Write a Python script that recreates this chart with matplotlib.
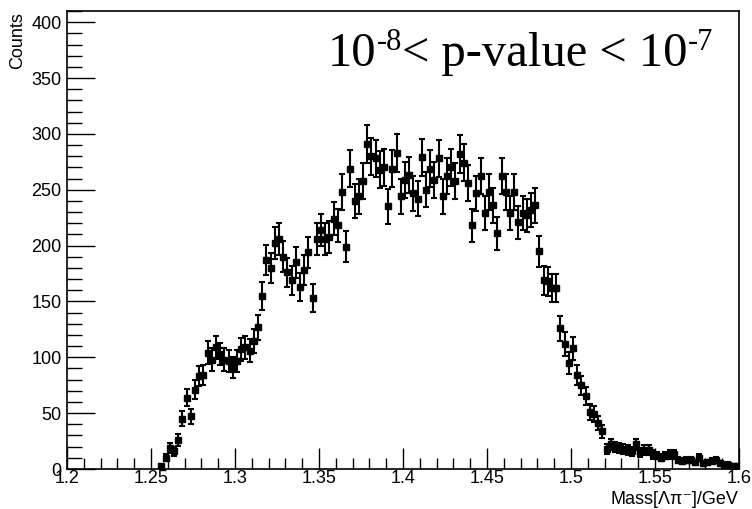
import numpy as np
import matplotlib
matplotlib.use("Agg")
import matplotlib.pyplot as plt
from matplotlib.ticker import MultipleLocator

# histogram: 160 bins of 0.0025 GeV from 1.2 to 1.6, first filled bin is #22
x_min = 1.2
x_max = 1.6
bin_width = 0.0025
first_bin = 22
counts = [3, 10, 19, 16, 26, 45, 64, 47, 71, 83, 84, 104, 98, 109, 103, 98, 97, 91, 97,
          107, 109, 106, 115, 127, 155, 187, 180, 202, 206, 190, 176, 169, 185, 163, 178,
          194, 153, 206, 214, 206, 208, 224, 218, 248, 199, 269, 240, 244, 258, 291, 280,
          278, 268, 270, 235, 269, 283, 244, 259, 263, 247, 242, 279, 250, 269, 259, 278,
          244, 262, 270, 258, 282, 274, 256, 218, 247, 262, 229, 248, 236, 211, 262, 248,
          229, 248, 221, 229, 227, 232, 236, 195, 169, 168, 162, 162, 126, 112, 95, 108,
          84, 75, 65, 51, 49, 41, 34, 18, 22, 20, 19, 18, 17, 16, 22, 15, 17, 17, 13, 12,
          10, 12, 13, 13, 8, 7, 8, 8, 6, 10, 5, 6, 7, 8, 5, 4, 4, 3, 3]
y_max = 410
# annotation pieces: base, superscript, base, superscript
note_parts = ["10", "-8", "< p-value < 10", "-7"]

counts = np.array(counts, dtype=float)
centers = x_min + (first_bin + np.arange(len(counts)) + 0.5) * bin_width
errors = np.sqrt(counts)

plt.rcParams['font.family'] = ['Liberation Sans', 'DejaVu Sans']

fig = plt.figure(figsize=(7.52, 5.09), dpi=100)
ax = fig.add_axes([67 / 752, 40 / 509, 672 / 752, 458 / 509])

ax.errorbar(centers, counts, yerr=errors, fmt='s', color='black', markersize=3.8,
            elinewidth=1.5, capsize=2.0, capthick=1.5)

ax.set_xlim(x_min, x_max)
ax.set_ylim(0, y_max)
ax.xaxis.set_minor_locator(MultipleLocator(0.01))
ax.yaxis.set_major_locator(MultipleLocator(50))
ax.yaxis.set_minor_locator(MultipleLocator(10))
ax.set_xticks(np.arange(1.2, 1.601, 0.05))
ax.set_xticklabels(['1.2', '1.25', '1.3', '1.35', '1.4', '1.45', '1.5', '1.55', '1.6'])

ax.tick_params(axis='both', which='both', direction='in', top=False, right=False,
               labelsize=13, width=1.0)
ax.tick_params(axis='y', which='major', length=20, pad=4)
ax.tick_params(axis='y', which='minor', length=11)
ax.tick_params(axis='x', which='major', length=15, pad=1)
ax.tick_params(axis='x', which='minor', length=8)
for s in ax.spines.values():
    s.set_linewidth(1.2)

fig.text(18 / 752, 1 - 12 / 509, 'Counts', rotation=90, fontsize=13,
         ha='center', va='top')
fig.text(738 / 752, 0.5 / 509, 'Mass[Λπ⁻]/GeV', fontsize=13, ha='right', va='bottom')

# p-value text in Times-like serif, superscripts built by hand
serif = 'Liberation Serif'
t0 = fig.text(328 / 752, 1 - 76 / 509, note_parts[0], fontsize=35, family=serif,
              ha='left', va='bottom')
t1 = ax.annotate(note_parts[1], xy=(1, 0), xycoords=t0, xytext=(0, 14),
                 textcoords='offset points', fontsize=22, family=serif,
                 ha='left', va='bottom')
t2 = ax.annotate(note_parts[2], xy=(1, 0), xycoords=(t1, t0), xytext=(0, 0),
                 textcoords='offset points', fontsize=35, family=serif,
                 ha='left', va='bottom')
t3 = ax.annotate(note_parts[3], xy=(1, 0), xycoords=t2, xytext=(0, 14),
                 textcoords='offset points', fontsize=22, family=serif,
                 ha='left', va='bottom')

fig.savefig('out.png', dpi=100)
